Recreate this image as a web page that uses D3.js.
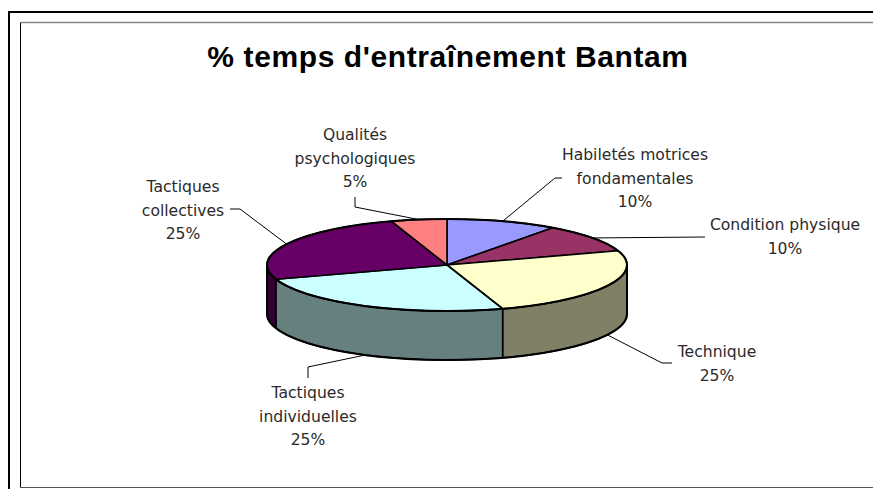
<!DOCTYPE html>
<html>
<head>
<meta charset="utf-8">
<script src="https://cdn.jsdelivr.net/npm/d3@7"></script>
<style>
  html, body { margin: 0; padding: 0; background: #fff; }
  svg { display: block; }
</style>
</head>
<body>
<svg id="chart" width="873" height="489"></svg>
<script>
// Training time split for the Bantam category
const categories = [
  ["Habiletés motrices", "fondamentales"],
  ["Condition physique"],
  ["Technique"],
  ["Tactiques", "individuelles"],
  ["Tactiques", "collectives"],
  ["Qualités", "psychologiques"]
];
const values = [10, 10, 25, 25, 25, 5];
const topColors  = ["#9999FF", "#993366", "#FFFFCC", "#CCFFFF", "#660066", "#FF8080"];
const sideColors = ["#4D4D80", "#4D1A33", "#808066", "#668080", "#330033", "#804040"];
const title = "% temps d'entraînement Bantam";

// Label layout: text block centre and leader elbow / end points
const labelLayout = [
  { x: 635, y: 155, elbow: [555, 178], end: [562, 178] },
  { x: 785, y: 225, elbow: [705, 237], end: [705, 237] },
  { x: 717, y: 352, elbow: [662, 363], end: [672, 363] },
  { x: 308, y: 393, elbow: [308, 367], end: [308, 378] },
  { x: 183, y: 187, elbow: [240, 209], end: [230, 209] },
  { x: 355, y: 135, elbow: [355, 207], end: [355, 197] }
];

const svg = d3.select("#chart");

// Frames
svg.append("rect").attr("x", 9).attr("y", 12).attr("width", 880).attr("height", 490)
  .attr("fill", "none").attr("stroke", "#000").attr("stroke-width", 2);
svg.append("line").attr("x1", 20.5).attr("y1", 22.5).attr("x2", 880).attr("y2", 22.5)
  .attr("stroke", "#888").attr("stroke-width", 1.5);
svg.append("line").attr("x1", 20.5).attr("y1", 22.5).attr("x2", 20.5).attr("y2", 487.5)
  .attr("stroke", "#000").attr("stroke-width", 1);
svg.append("line").attr("x1", 20.5).attr("y1", 487.5).attr("x2", 880).attr("y2", 487.5)
  .attr("stroke", "#555").attr("stroke-width", 1.2);

// Title
svg.append("text")
  .attr("x", 448).attr("y", 67)
  .attr("text-anchor", "middle")
  .attr("font-family", "'Liberation Sans', Arial, sans-serif")
  .attr("font-weight", "bold")
  .attr("font-size", 30)
  .attr("letter-spacing", 0.6)
  .attr("fill", "#000")
  .text(title);

// 3D pie geometry
const cx = 447, cy = 265, rx = 180, ry = 46, depth = 49;
const pt = (a, dy = 0) => [cx + rx * Math.sin(a), cy - ry * Math.cos(a) + dy];

const pie = d3.pie().sort(null).value(d => d);
const arcs = pie(values);

// Front side walls (visible between 90° and 270°)
const g = svg.append("g");
arcs.forEach((a, i) => {
  const s = Math.max(a.startAngle, Math.PI / 2);
  const e = Math.min(a.endAngle, 3 * Math.PI / 2);
  if (e <= s) return;
  const p0 = pt(s), p1 = pt(e), p2 = pt(e, depth), p3 = pt(s, depth);
  const large = (e - s) > Math.PI ? 1 : 0;
  const d = `M${p0[0]},${p0[1]} A${rx},${ry} 0 ${large} 1 ${p1[0]},${p1[1]}`
        + ` L${p2[0]},${p2[1]} A${rx},${ry} 0 ${large} 0 ${p3[0]},${p3[1]} Z`;
  g.append("path").attr("d", d)
    .attr("fill", sideColors[i]).attr("stroke", "#000")
    .attr("stroke-width", 1.6).attr("stroke-linejoin", "round");
});

// Top faces
arcs.forEach((a, i) => {
  const p0 = pt(a.startAngle), p1 = pt(a.endAngle);
  const large = (a.endAngle - a.startAngle) > Math.PI ? 1 : 0;
  const d = `M${cx},${cy} L${p0[0]},${p0[1]} A${rx},${ry} 0 ${large} 1 ${p1[0]},${p1[1]} Z`;
  g.append("path").attr("d", d)
    .attr("fill", topColors[i]).attr("stroke", "#000")
    .attr("stroke-width", 1.6).attr("stroke-linejoin", "round");
});

// Outer rim, slightly heavier
g.append("ellipse").attr("cx", cx).attr("cy", cy).attr("rx", rx).attr("ry", ry)
  .attr("fill", "none").attr("stroke", "#000").attr("stroke-width", 2);
{
  const l = pt(3 * Math.PI / 2, depth), r = pt(Math.PI / 2, depth);
  g.append("path")
    .attr("d", `M${r[0]},${cy} L${r[0]},${r[1]} A${rx},${ry} 0 0 1 ${l[0]},${l[1]} L${l[0]},${cy}`)
    .attr("fill", "none").attr("stroke", "#000").attr("stroke-width", 2);
}

// Leader lines and labels
const total = d3.sum(values);
arcs.forEach((a, i) => {
  const mid = (a.startAngle + a.endAngle) / 2;
  const front = mid > Math.PI / 2 && mid < 3 * Math.PI / 2;
  const anchor = pt(mid, front ? depth : 0);
  const L = labelLayout[i];
  svg.append("polyline")
    .attr("points", [anchor, L.elbow, L.end].map(p => p.join(",")).join(" "))
    .attr("fill", "none").attr("stroke", "#000").attr("stroke-width", 1);

  const lines = categories[i].concat([Math.round(values[i] / total * 100) + "%"]);
  const t = svg.append("text")
    .attr("text-anchor", "middle")
    .attr("font-family", "'DejaVu Sans', sans-serif")
    .attr("font-size", 15.6)
    .attr("fill", "#2a2a2a");
  lines.forEach((ln, k) => {
    t.append("tspan").attr("x", L.x).attr("y", L.y + k * 23.2)
      .attr("dy", "0.35em").text(ln);
  });
});
</script>
</body>
</html>
